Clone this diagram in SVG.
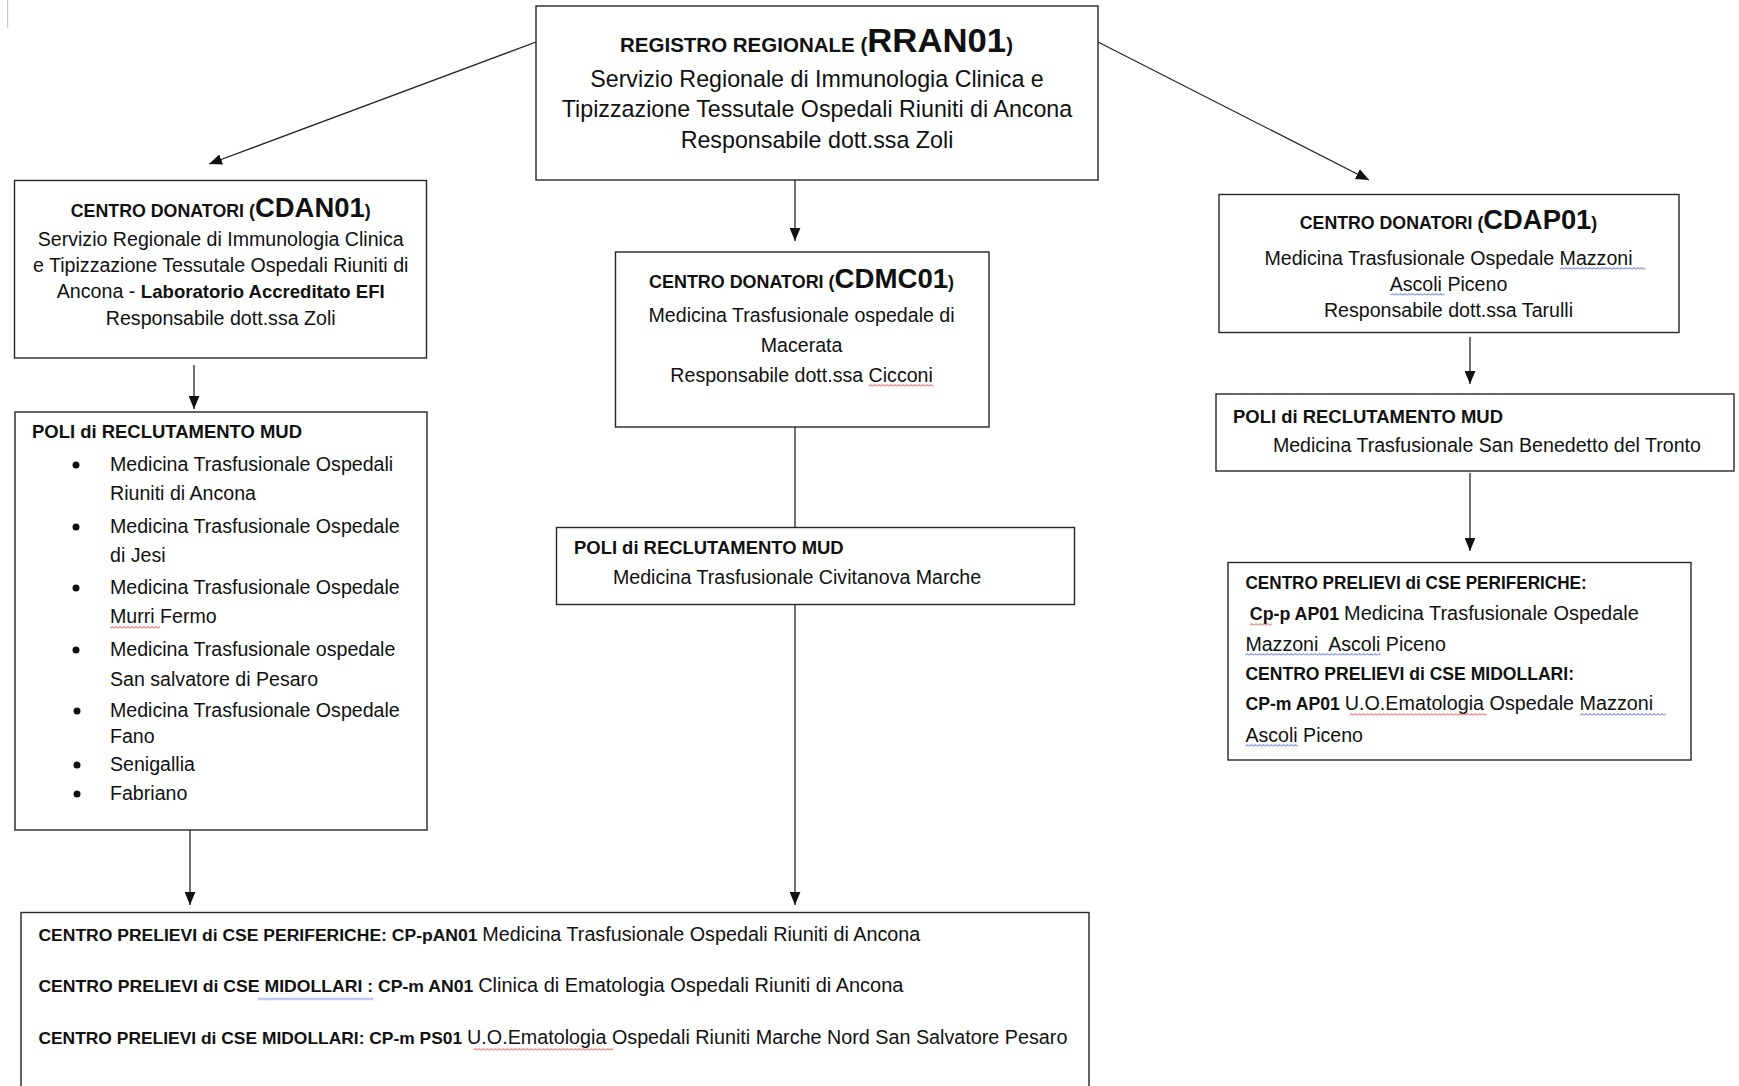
<svg xmlns="http://www.w3.org/2000/svg" width="1739" height="1086" viewBox="0 0 1739 1086">
<style>
.box{fill:#fff;stroke:#262626;stroke-width:1.4}
.conn{stroke:#262626;stroke-width:1.3;fill:none}
.t{font-family:"Liberation Sans",Arial,sans-serif;fill:#111}
.c{text-anchor:middle}
.b{font-weight:bold}
</style>
<defs>
<marker id="ah" viewBox="0 0 12 10" refX="12" refY="5" markerWidth="13" markerHeight="11" markerUnits="userSpaceOnUse" orient="auto"><path d="M0,0 L12,5 L0,10 z" fill="#111"/></marker>
<pattern id="wr" width="4" height="3" patternUnits="userSpaceOnUse"><path d="M0,2.5 L2,0.5 L4,2.5" fill="none" stroke="#e02424" stroke-width="0.9"/></pattern>
<pattern id="wb" width="4" height="3" patternUnits="userSpaceOnUse"><path d="M0,2.5 L2,0.5 L4,2.5" fill="none" stroke="#2a3fd6" stroke-width="0.9"/></pattern>
</defs>
<rect x="0" y="0" width="1739" height="1086" fill="#fff"/>
<line x1="7.7" y1="0" x2="7.7" y2="28" stroke="#bdbdbd" stroke-width="1"/>

<g id="connectors">
<line class="conn" x1="536" y1="42" x2="209" y2="164" marker-end="url(#ah)"/>
<line class="conn" x1="1098" y1="42" x2="1369" y2="180" marker-end="url(#ah)"/>
<line class="conn" x1="795" y1="180" x2="795" y2="241" marker-end="url(#ah)"/>
<line class="conn" x1="194" y1="365" x2="194" y2="409" marker-end="url(#ah)"/>
<line class="conn" x1="190" y1="830" x2="190" y2="905" marker-end="url(#ah)"/>
<line class="conn" x1="795" y1="427" x2="795" y2="527"/>
<line class="conn" x1="795" y1="604" x2="795" y2="905" marker-end="url(#ah)"/>
<line class="conn" x1="1470" y1="337" x2="1470" y2="384" marker-end="url(#ah)"/>
<line class="conn" x1="1470" y1="473" x2="1470" y2="551" marker-end="url(#ah)"/>
</g>

<g id="rran01">
<rect class="box" x="536" y="6" width="562" height="174"/>
<text class="t" x="620" y="52" textLength="393" lengthAdjust="spacingAndGlyphs"><tspan class="b" font-size="19.5">REGISTRO REGIONALE (</tspan><tspan class="b" font-size="33">RRAN01</tspan><tspan class="b" font-size="19.5">)</tspan></text>
<text class="t c" x="817" y="86.5" font-size="23.25">Servizio Regionale di Immunologia Clinica e</text>
<text class="t c" x="817" y="116.5" font-size="23.25">Tipizzazione Tessutale Ospedali Riuniti di Ancona</text>
<text class="t c" x="817" y="147.5" font-size="23.25">Responsabile dott.ssa Zoli</text>
</g>

<g id="cdan01">
<rect class="box" x="14.5" y="180.5" width="412" height="177.5"/>
<text class="t c" x="220.7" y="217" textLength="300" lengthAdjust="spacingAndGlyphs"><tspan class="b" font-size="17.5">CENTRO DONATORI (</tspan><tspan class="b" font-size="27">CDAN01</tspan><tspan class="b" font-size="17.5">)</tspan></text>
<text class="t c" x="220.7" y="246" font-size="19.6">Servizio Regionale di Immunologia Clinica</text>
<text class="t c" x="220.7" y="272" font-size="19.6">e Tipizzazione Tessutale Ospedali Riuniti di</text>
<text class="t c" x="220.7" y="298" font-size="19.6" textLength="328" lengthAdjust="spacingAndGlyphs">Ancona - <tspan class="b" font-size="18.5">Laboratorio Accreditato EFI</tspan></text>
<text class="t c" x="220.7" y="325" font-size="19.6">Responsabile dott.ssa Zoli</text>
</g>

<g id="poli-an">
<rect class="box" x="15" y="412" width="412" height="418"/>
<text class="t b" x="32" y="438" font-size="18.2" textLength="270" lengthAdjust="spacingAndGlyphs">POLI di RECLUTAMENTO MUD</text>
<g fill="#111">
<circle cx="76" cy="465" r="3.5"/>
<circle cx="76" cy="527" r="3.5"/>
<circle cx="76" cy="588" r="3.5"/>
<circle cx="76" cy="650" r="3.5"/>
<circle cx="77" cy="711" r="3.5"/>
<circle cx="77" cy="765" r="3.5"/>
<circle cx="77" cy="794" r="3.5"/>
</g>
<text class="t" x="110" y="470.7" font-size="19.6">Medicina Trasfusionale Ospedali</text>
<text class="t" x="110" y="500" font-size="19.6">Riuniti di Ancona</text>
<text class="t" x="110" y="532.7" font-size="19.6">Medicina Trasfusionale Ospedale</text>
<text class="t" x="110" y="561.7" font-size="19.6">di Jesi</text>
<text class="t" x="110" y="594" font-size="19.6">Medicina Trasfusionale Ospedale</text>
<text class="t" x="110" y="623" font-size="19.6">Murri Fermo</text>
<text class="t" x="110" y="656" font-size="19.6">Medicina Trasfusionale ospedale</text>
<text class="t" x="110" y="686" font-size="19.6">San salvatore di Pesaro</text>
<text class="t" x="110" y="716.7" font-size="19.6">Medicina Trasfusionale Ospedale</text>
<text class="t" x="110" y="743" font-size="19.6">Fano</text>
<text class="t" x="110" y="770.7" font-size="19.6">Senigallia</text>
<text class="t" x="110" y="800" font-size="19.6">Fabriano</text>
</g>

<g id="cdmc01">
<rect class="box" x="615.5" y="252" width="373.5" height="175"/>
<text class="t c" x="801.6" y="288" textLength="305" lengthAdjust="spacingAndGlyphs"><tspan class="b" font-size="17.5">CENTRO DONATORI (</tspan><tspan class="b" font-size="27">CDMC01</tspan><tspan class="b" font-size="17.5">)</tspan></text>
<text class="t c" x="801.6" y="321.7" font-size="19.6">Medicina Trasfusionale ospedale di</text>
<text class="t c" x="801.6" y="351.7" font-size="19.6">Macerata</text>
<text class="t c" x="801.6" y="381.7" font-size="19.6">Responsabile dott.ssa Cicconi</text>
</g>

<g id="poli-mc">
<rect class="box" x="556.5" y="527.5" width="518" height="77"/>
<text class="t b" x="574" y="554" font-size="18.2" textLength="269.6" lengthAdjust="spacingAndGlyphs">POLI di RECLUTAMENTO MUD</text>
<text class="t" x="613" y="584" font-size="19.6">Medicina Trasfusionale Civitanova Marche</text>
</g>

<g id="cdap01">
<rect class="box" x="1219" y="194.5" width="460" height="138"/>
<text class="t c" x="1448.5" y="229.3" textLength="297.5" lengthAdjust="spacingAndGlyphs"><tspan class="b" font-size="17.5">CENTRO DONATORI (</tspan><tspan class="b" font-size="27">CDAP01</tspan><tspan class="b" font-size="17.5">)</tspan></text>
<text class="t c" x="1448.5" y="265" font-size="19.6">Medicina Trasfusionale Ospedale Mazzoni</text>
<text class="t c" x="1448.5" y="290.7" font-size="19.6">Ascoli Piceno</text>
<text class="t c" x="1448.5" y="316.7" font-size="19.6">Responsabile dott.ssa Tarulli</text>
</g>

<g id="poli-ap">
<rect class="box" x="1216" y="394" width="518" height="77"/>
<text class="t b" x="1233" y="422.7" font-size="18.2" textLength="270" lengthAdjust="spacingAndGlyphs">POLI di RECLUTAMENTO MUD</text>
<text class="t" x="1272.9" y="451.7" font-size="19.6">Medicina Trasfusionale San Benedetto del Tronto</text>
</g>

<g id="prelievi-ap">
<rect class="box" x="1228" y="562.5" width="463" height="197.5"/>
<text class="t b" x="1245.4" y="589.3" font-size="17.5" textLength="341.4" lengthAdjust="spacingAndGlyphs">CENTRO PRELIEVI di CSE PERIFERICHE:</text>
<text class="t" x="1249.8" y="620" font-size="19.6" textLength="389" lengthAdjust="spacingAndGlyphs"><tspan class="b" font-size="17.5">Cp-p AP01 </tspan>Medicina Trasfusionale Ospedale</text>
<text class="t" x="1245.4" y="650.7" font-size="19.6">Mazzoni&#160; Ascoli Piceno</text>
<text class="t b" x="1245.4" y="680" font-size="17.5" textLength="328.6" lengthAdjust="spacingAndGlyphs">CENTRO PRELIEVI di CSE MIDOLLARI:</text>
<text class="t" x="1245.4" y="710" font-size="19.6" textLength="407.7" lengthAdjust="spacingAndGlyphs"><tspan class="b" font-size="17.5">CP-m AP01 </tspan>U.O.Ematologia Ospedale Mazzoni</text>
<text class="t" x="1245.4" y="741.7" font-size="19.6">Ascoli Piceno</text>
</g>

<g id="prelievi-an">
<rect class="box" x="21" y="912.5" width="1068" height="200"/>
<text class="t" x="38.4" y="940.5" font-size="19.6" textLength="881.8" lengthAdjust="spacingAndGlyphs"><tspan class="b" font-size="17.4">CENTRO PRELIEVI di CSE PERIFERICHE: CP-pAN01 </tspan>Medicina Trasfusionale Ospedali Riuniti di Ancona</text>
<text class="t" x="38.4" y="991.5" font-size="19.6" textLength="865" lengthAdjust="spacingAndGlyphs"><tspan class="b" font-size="17.3">CENTRO PRELIEVI di CSE MIDOLLARI : CP-m AN01 </tspan>Clinica di Ematologia Ospedali Riuniti di Ancona</text>
<text class="t" x="38.4" y="1044" font-size="19.6" textLength="1029" lengthAdjust="spacingAndGlyphs"><tspan class="b" font-size="17.3">CENTRO PRELIEVI di CSE MIDOLLARI: CP-m PS01 </tspan>U.O.Ematologia Ospedali Riuniti Marche Nord San Salvatore Pesaro</text>
</g>

<g id="spellcheck">
<rect transform="translate(110,626)" width="50" height="3" fill="url(#wr)"/>
<rect transform="translate(868.6,384)" width="65" height="3" fill="url(#wr)"/>
<rect transform="translate(1559.7,267)" width="85.5" height="3" fill="url(#wb)"/>
<rect transform="translate(1390.5,293)" width="54" height="3" fill="url(#wb)"/>
<rect transform="translate(1249.8,623)" width="22" height="3" fill="url(#wr)"/>
<rect transform="translate(1245.4,653)" width="135" height="3" fill="url(#wb)"/>
<rect transform="translate(1349.5,713)" width="137.5" height="3" fill="url(#wr)"/>
<rect transform="translate(1579.9,713)" width="86" height="3" fill="url(#wb)"/>
<rect transform="translate(1245.4,744)" width="52.6" height="3" fill="url(#wb)"/>
<rect transform="translate(258,997.5)" width="115" height="3" fill="url(#wb)"/>
<rect transform="translate(473.5,1048)" width="140" height="3" fill="url(#wr)"/>
</g>
</svg>
